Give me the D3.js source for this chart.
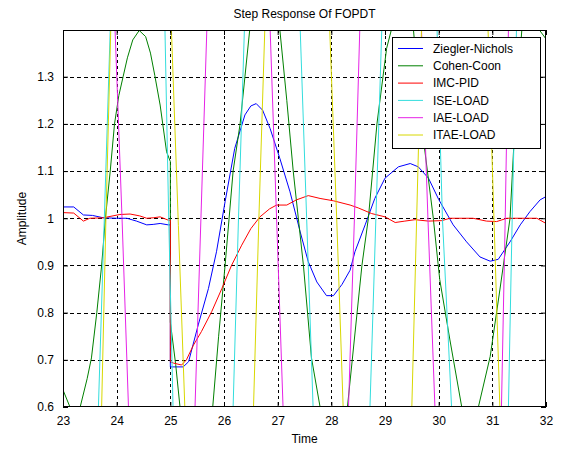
<!DOCTYPE html>
<html lang="en">
    <head>
        <meta charset="UTF-8" />
        <title>Step Response Of FOPDT</title>
        <script src="https://cdn.jsdelivr.net/npm/d3@7/dist/d3.min.js"></script>
    </head>
    <body style="padding: 0; margin: 0; background-color: #fff;">
        <script>
            // data, [time, amplitude]
            const zieglerNichols = [
                [23.0, 1.024], [23.2, 1.024], [23.38, 1.007], [23.55, 1.006], [23.75, 1.001],
                [24.0, 1.0], [24.19, 1.0], [24.37, 0.994], [24.56, 0.986], [24.68, 0.987],
                [24.81, 0.989], [24.96, 0.986], [25.0, 0.986], [25.0, 0.685], [25.24, 0.685],
                [25.34, 0.696], [25.52, 0.774], [25.71, 0.851], [25.86, 0.929], [26.02, 1.035],
                [26.2, 1.148], [26.39, 1.219], [26.5, 1.238], [26.6, 1.243], [26.72, 1.229],
                [26.86, 1.19], [27.04, 1.127], [27.23, 1.056], [27.42, 0.971], [27.57, 0.908],
                [27.73, 0.865], [27.91, 0.836], [28.04, 0.836], [28.2, 0.86], [28.35, 0.89],
                [28.44, 0.929], [28.63, 0.986], [28.81, 1.042], [29.0, 1.085], [29.25, 1.109],
                [29.47, 1.116], [29.62, 1.109], [29.81, 1.085], [30.0, 1.04], [30.27, 0.986],
                [30.52, 0.95], [30.77, 0.918], [30.96, 0.909], [31.11, 0.913], [31.33, 0.95],
                [31.52, 0.986], [31.7, 1.014], [31.89, 1.039], [32.0, 1.046]
            ];
            const cohenCoon = [
                [23.0, 0.636], [23.13, 0.6], [23.22, 0.585], [23.32, 0.6], [23.45, 0.66],
                [23.53, 0.704], [23.63, 0.8], [23.72, 0.9], [23.79, 1.0], [23.88, 1.1],
                [23.96, 1.2], [24.04, 1.26], [24.12, 1.3], [24.2, 1.34], [24.3, 1.378],
                [24.42, 1.398], [24.54, 1.385], [24.63, 1.35], [24.71, 1.303], [24.81, 1.24],
                [24.93, 1.141], [25.0, 1.12], [25.0, 0.78], [25.1, 0.69], [25.18, 0.6],
                [25.5, 0.45], [25.79, 0.6], [25.9, 0.75], [26.02, 0.9], [26.17, 1.1],
                [26.3, 1.2], [26.39, 1.3], [26.48, 1.4], [26.76, 1.55], [27.04, 1.4],
                [27.17, 1.25], [27.29, 1.1], [27.48, 0.9], [27.63, 0.704], [27.79, 0.6],
                [28.05, 0.5], [28.3, 0.6], [28.57, 0.9], [28.69, 1.0], [28.85, 1.2],
                [29.03, 1.36], [29.12, 1.4], [29.33, 1.48], [29.53, 1.4], [29.68, 1.2],
                [29.9, 1.0], [30.02, 0.87], [30.21, 0.742], [30.43, 0.6], [30.58, 0.54],
                [30.74, 0.6], [30.96, 0.707], [31.14, 0.848], [31.33, 1.0], [31.42, 1.197],
                [31.55, 1.4], [31.72, 1.44], [31.87, 1.4], [32.0, 1.38]
            ];
            const imcPid = [
                [23.0, 1.012], [23.2, 1.011], [23.38, 0.994], [23.5, 1.0], [23.75, 1.001],
                [24.06, 1.008], [24.25, 1.009], [24.43, 1.005], [24.56, 1.0], [24.68, 1.001],
                [24.81, 1.003], [24.96, 0.996], [25.0, 0.996], [25.0, 0.696], [25.06, 0.693],
                [25.21, 0.689], [25.3, 0.7], [25.43, 0.731], [25.58, 0.76], [25.77, 0.802],
                [25.96, 0.851], [26.14, 0.9], [26.33, 0.943], [26.5, 0.978], [26.67, 1.003],
                [26.85, 1.02], [26.98, 1.028], [27.17, 1.028], [27.35, 1.039], [27.57, 1.048],
                [27.79, 1.042], [28.04, 1.037], [28.35, 1.028], [28.5, 1.022], [28.75, 1.01],
                [29.0, 1.003], [29.19, 0.991], [29.37, 0.994], [29.56, 0.997], [29.81, 0.994],
                [30.06, 0.995], [30.21, 1.0], [30.64, 1.0], [30.89, 0.994], [31.08, 0.993],
                [31.27, 1.0], [31.83, 1.0], [32.0, 0.989]
            ];
            const iseLoad = [
                [23.0, -0.2], [23.66, 0.6], [23.77, 1.0], [23.88, 1.4], [24.4, 2.2],
                [24.9, 1.4], [24.97, 1.0], [25.05, 0.6], [25.6, -0.2], [26.17, 0.6],
                [26.27, 1.0], [26.38, 1.4], [26.9, 2.2], [27.42, 1.4], [27.54, 1.0],
                [27.66, 0.6], [28.2, -0.2], [28.72, 0.6], [28.83, 1.0], [28.94, 1.4],
                [29.45, 2.2], [29.97, 1.4], [30.07, 1.0], [30.24, 0.6], [30.77, -0.2],
                [31.3, 0.6], [31.37, 1.0], [31.45, 1.4], [32.0, 2.2]
            ];
            const iaeLoad = [
                [23.0, 2.0], [23.97, 1.4], [24.1, 1.0], [24.22, 0.6], [24.85, -0.2],
                [25.46, 0.6], [25.57, 1.0], [25.68, 1.4], [26.27, 2.2], [26.86, 1.4],
                [26.98, 1.0], [27.1, 0.6], [27.7, -0.2], [28.32, 0.6], [28.43, 1.0],
                [28.53, 1.4], [29.1, 2.2], [29.68, 1.4], [29.8, 1.0], [29.93, 0.6],
                [30.55, -0.2], [31.17, 0.6], [31.24, 1.0], [31.3, 1.4], [32.0, 2.2]
            ];
            const itaeLoad = [
                [23.0, 0.0], [23.72, 0.6], [23.8, 1.0], [23.89, 1.4], [24.45, 2.2],
                [25.02, 1.4], [25.15, 0.985], [25.27, 0.6], [25.9, -0.2], [26.55, 0.6],
                [26.65, 1.0], [26.76, 1.4], [27.37, 2.2], [27.97, 1.4], [28.1, 1.0],
                [28.22, 0.6], [28.86, -0.2], [29.5, 0.6], [29.59, 1.0], [29.68, 1.4],
                [30.3, 2.2], [30.92, 1.4], [31.03, 1.0], [31.14, 0.6], [31.8, -0.2],
                [32.0, 0.0]
            ];

            const seriesNames = ['Ziegler-Nichols', 'Cohen-Coon', 'IMC-PID', 'ISE-LOAD', 'IAE-LOAD', 'ITAE-LOAD'];
            const seriesData = [zieglerNichols, cohenCoon, imcPid, iseLoad, iaeLoad, itaeLoad];
            const seriesColors = ['#0000ff', '#008000', '#ff0000', '#33dddd', '#e622e6', '#d8d800'];
            const xTicks = [23, 24, 25, 26, 27, 28, 29, 30, 31, 32];
            const yTicks = [0.6, 0.7, 0.8, 0.9, 1, 1.1, 1.2, 1.3];

            const width = 565;
            const height = 451;
            const margin = { left: 63, right: 19, top: 30, bottom: 44 };
            const font = '"Liberation Sans", Arial, sans-serif';

            const svg = d3
                .select('body')
                .append('svg')
                .attr('width', width)
                .attr('height', height)
                .style('display', 'block')
                .style('font-family', font);

            svg.append('rect')
                .attr('width', width)
                .attr('height', height)
                .attr('fill', '#fff');

            const x = d3.scaleLinear().domain([23, 32]).range([margin.left, width - margin.right]);
            const y = d3.scaleLinear().domain([0.6, 1.399]).range([height - margin.bottom, margin.top]);

            const [x0, x1] = x.range();
            const [y0, y1] = y.range();

            // grid (MATLAB style dashed)
            svg.append('g')
                .selectAll('line')
                .data(xTicks.slice(1, -1))
                .join('line')
                .attr('x1', d => Math.round(x(d)) + 0.5)
                .attr('x2', d => Math.round(x(d)) + 0.5)
                .attr('y1', y1)
                .attr('y2', y0)
                .attr('stroke', '#000')
                .attr('stroke-dasharray', '3,3');

            svg.append('g')
                .selectAll('line')
                .data(yTicks.slice(1))
                .join('line')
                .attr('x1', x0)
                .attr('x2', x1)
                .attr('y1', d => Math.round(y(d)) + 0.5)
                .attr('y2', d => Math.round(y(d)) + 0.5)
                .attr('stroke', '#000')
                .attr('stroke-dasharray', '4,3');

            // lines, clipped to the axes box
            svg.append('clipPath')
                .attr('id', 'plot-clip')
                .append('rect')
                .attr('x', x0)
                .attr('y', y1)
                .attr('width', x1 - x0)
                .attr('height', y0 - y1);

            const line = d3.line()
                .x(d => x(d[0]))
                .y(d => y(d[1]));

            svg.append('g')
                .attr('clip-path', 'url(#plot-clip)')
                .selectAll('path')
                .data(seriesData)
                .join('path')
                .attr('d', line)
                .attr('fill', 'none')
                .attr('stroke', (d, i) => seriesColors[i])
                .attr('stroke-width', 1);

            // axes: ticks inside on all four sides
            const bottomAxis = d3.axisBottom(x).tickValues(xTicks).tickSize(-5).tickPadding(9).tickFormat(d3.format('d'));
            const topAxis = d3.axisTop(x).tickValues(xTicks).tickSize(-5).tickFormat('');
            const leftAxis = d3.axisLeft(y).tickValues(yTicks).tickSize(-5).tickPadding(9).tickFormat(d => String(d));
            const rightAxis = d3.axisRight(y).tickValues(yTicks).tickSize(-5).tickFormat('');

            const axisStyle = g => {
                g.selectAll('.domain').remove();
                g.selectAll('line').attr('stroke', '#000');
                g.selectAll('text').attr('fill', '#000').style('font-size', '12px').style('font-family', font);
            };

            svg.append('g').attr('transform', `translate(0,${y0})`).call(bottomAxis).call(axisStyle);
            svg.append('g').attr('transform', `translate(0,${y1})`).call(topAxis).call(axisStyle);
            svg.append('g').attr('transform', `translate(${x0},0)`).call(leftAxis).call(axisStyle);
            svg.append('g').attr('transform', `translate(${x1},0)`).call(rightAxis).call(axisStyle);

            svg.append('rect')
                .attr('x', x0 + 0.5)
                .attr('y', y1 + 0.5)
                .attr('width', x1 - x0 - 1)
                .attr('height', y0 - y1 - 1)
                .attr('fill', 'none')
                .attr('stroke', '#000');

            // labels
            svg.append('text')
                .attr('x', (x0 + x1) / 2)
                .attr('y', 18)
                .attr('text-anchor', 'middle')
                .style('font-size', '12px')
                .text('Step Response Of FOPDT');

            svg.append('text')
                .attr('x', (x0 + x1) / 2)
                .attr('y', 443)
                .attr('text-anchor', 'middle')
                .style('font-size', '12px')
                .text('Time');

            svg.append('text')
                .attr('transform', `translate(26,${(y0 + y1) / 2}) rotate(-90)`)
                .attr('text-anchor', 'middle')
                .style('font-size', '12px')
                .text('Amplitude');

            // legend
            const legend = svg.append('g').attr('transform', 'translate(392,37)');
            legend.append('rect')
                .attr('x', 0.5)
                .attr('y', 0.5)
                .attr('width', 148)
                .attr('height', 111)
                .attr('fill', '#fff')
                .attr('stroke', '#000');

            const rows = legend.selectAll('g.row')
                .data(seriesNames)
                .join('g')
                .attr('class', 'row')
                .attr('transform', (d, i) => `translate(0,${11.5 + i * 17.3})`);

            rows.append('line')
                .attr('x1', 6)
                .attr('x2', 31)
                .attr('stroke', (d, i) => seriesColors[i]);

            rows.append('text')
                .attr('x', 41)
                .attr('dy', '0.35em')
                .style('font-size', '12px')
                .text(d => d);
        </script>
    </body>
</html>
